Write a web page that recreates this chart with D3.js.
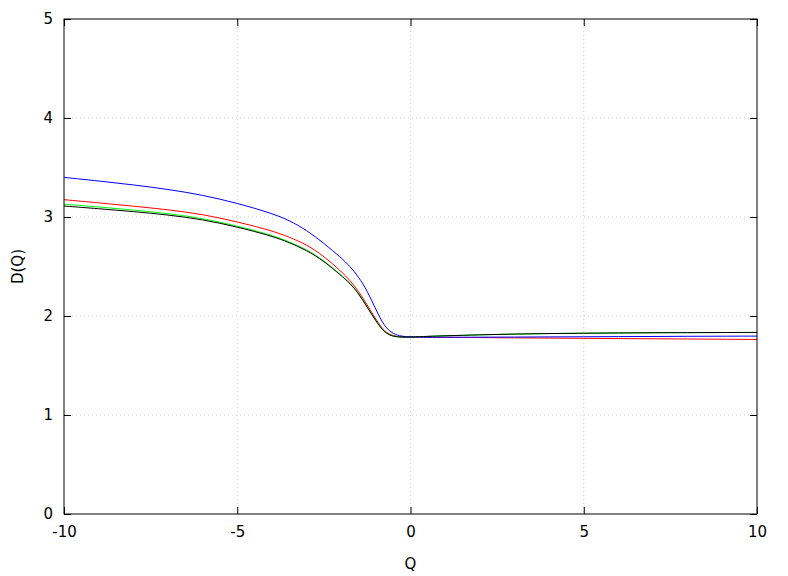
<!DOCTYPE html>
<html><head><meta charset="utf-8">
<script src="https://cdn.jsdelivr.net/npm/d3@7"></script>
<style>body{margin:0;background:#fff}svg{display:block}text{font-family:"DejaVu Sans",sans-serif;font-size:15px;fill:#000}</style>
</head><body><svg id="c" width="788" height="576"></svg>
<script>
const qNeg = [-10,-9,-8,-7,-6,-5,-4,-3.5,-3,-2.5,-2,-1.75,-1.5,-1.25,-1,-0.75,-0.5,-0.25,0];
const qPos = [0,0.5,1,2,3,4,5,6,7,8,9,10];
const blueNeg  = [3.400,3.364,3.325,3.280,3.222,3.140,3.037,2.966,2.868,2.735,2.588,2.502,2.396,2.256,2.066,1.890,1.818,1.794,1.788];
const redNeg   = [3.175,3.143,3.110,3.074,3.028,2.952,2.862,2.797,2.722,2.605,2.450,2.362,2.252,2.112,1.966,1.840,1.796,1.789,1.788];
const greenNeg = [3.130,3.102,3.071,3.036,2.987,2.910,2.817,2.750,2.673,2.562,2.413,2.336,2.232,2.093,1.951,1.832,1.793,1.786,1.786];
const blackNeg = [3.111,3.084,3.055,3.022,2.975,2.900,2.808,2.742,2.665,2.555,2.408,2.332,2.228,2.090,1.948,1.830,1.792,1.786,1.786];
const bluePos  = [1.788,1.785,1.785,1.786,1.787,1.789,1.790,1.792,1.793,1.795,1.796,1.797];
const redPos   = [1.788,1.786,1.785,1.782,1.779,1.777,1.774,1.772,1.770,1.768,1.765,1.763];
const greenPos = [1.786,1.795,1.800,1.810,1.818,1.823,1.826,1.829,1.831,1.832,1.833,1.834];
const blackPos = [1.786,1.795,1.800,1.810,1.818,1.823,1.826,1.829,1.831,1.832,1.833,1.834];
const xTicks = [-10,-5,0,5,10];
const yTicks = [0,1,2,3,4,5];

const series = [
  {color:"#ff0000", neg:redNeg, pos:redPos},
  {color:"#00ff00", neg:greenNeg, pos:greenPos},
  {color:"#0000ff", neg:blueNeg, pos:bluePos},
  {color:"#000000", neg:blackNeg, pos:blackPos}
];

const L=64,R=757,T=19,B=514;
const svg=d3.select("#c");
const x=d3.scaleLinear().domain([-10,10]).range([L,R]);
const y=d3.scaleLinear().domain([0,5]).range([B,T]);

// grid
const g=svg.append("g");
xTicks.forEach(t=>{ if(t>-10&&t<10) g.append("line").attr("x1",x(t)).attr("x2",x(t)).attr("y1",T).attr("y2",B).attr("stroke","#b0b0b0").attr("stroke-width",0.6).attr("stroke-dasharray","1,3");});
yTicks.forEach(t=>{ if(t>0&&t<5) g.append("line").attr("x1",L).attr("x2",R).attr("y1",y(t)).attr("y2",y(t)).attr("stroke","#b0b0b0").attr("stroke-width",0.6).attr("stroke-dasharray","1,3");});

// curves
const line=d3.line().x(d=>x(d[0])).y(d=>y(d[1])).curve(d3.curveBasis);
series.forEach(s=>{
  const pts=qNeg.map((q,i)=>[q,s.neg[i]]).concat(qPos.slice(1).map((q,i)=>[q,s.pos[i+1]]));
  svg.append("path").datum(pts).attr("d",line).attr("fill","none").attr("stroke",s.color).attr("stroke-width",1);
});

// axes with inward ticks, mirrored
const tl=7;
const fmt=d=>String(d);
svg.append("g").attr("transform",`translate(0,${B})`).call(d3.axisBottom(x).tickValues(xTicks).tickSize(-tl).tickPadding(12).tickFormat(fmt));
svg.append("g").attr("transform",`translate(0,${T})`).call(d3.axisTop(x).tickValues(xTicks).tickSize(-tl).tickFormat(""));
svg.append("g").attr("transform",`translate(${L},0)`).call(d3.axisLeft(y).tickValues(yTicks).tickSize(-tl).tickPadding(11).tickFormat(fmt));
svg.append("g").attr("transform",`translate(${R},0)`).call(d3.axisRight(y).tickValues(yTicks).tickSize(-tl).tickFormat(""));
svg.selectAll(".domain").remove();
svg.selectAll(".tick line").attr("stroke","#000");
svg.selectAll(".tick text").style("font-family","'DejaVu Sans',sans-serif").style("font-size","15px");
svg.append("rect").attr("x",L).attr("y",T).attr("width",R-L).attr("height",B-T).attr("fill","none").attr("stroke","#000").attr("stroke-width",1);

svg.append("text").attr("x",(L+R)/2).attr("y",569).attr("text-anchor","middle").text("Q");
svg.append("text").attr("transform",`translate(23,${(T+B)/2}) rotate(-90)`).attr("text-anchor","middle").text("D(Q)");
</script></body></html>
